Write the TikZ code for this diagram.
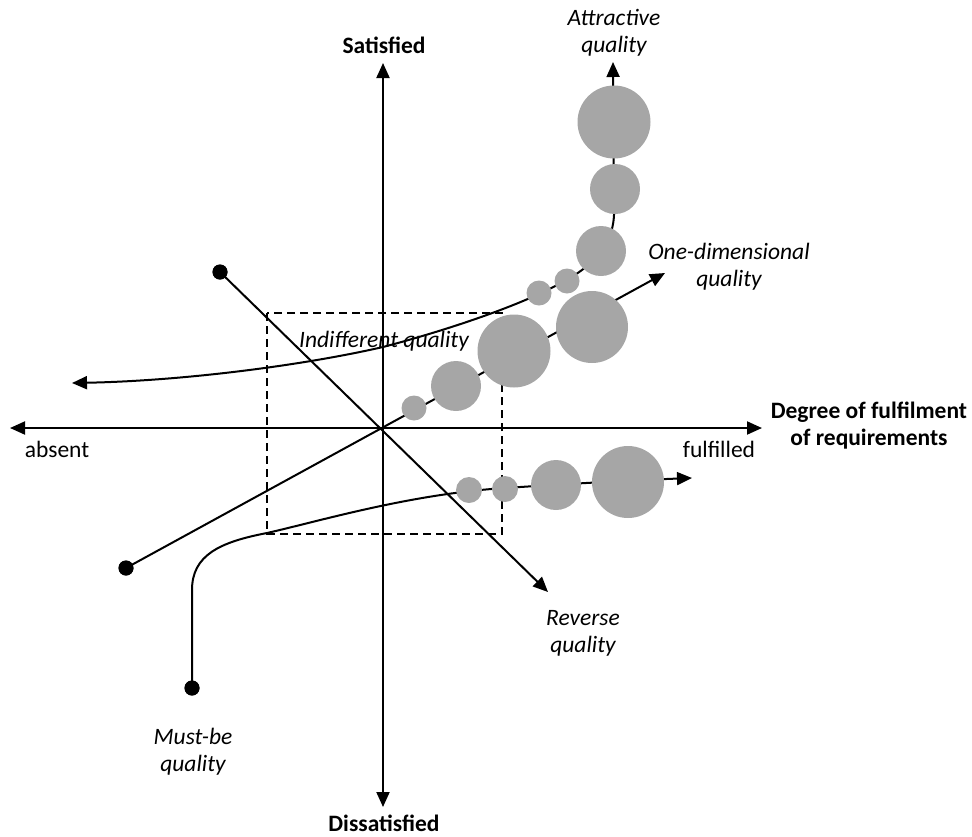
\documentclass[tikz,border=0pt]{standalone}
\usepackage{fontspec}
\setmainfont{Carlito}
\usetikzlibrary{arrows.meta}
\definecolor{bubgray}{RGB}{166,166,166}
\begin{document}
\begin{tikzpicture}[x=1pt,y=-1pt,
  ln/.style={line width=2pt},
  tipend/.style={-{Triangle[length=15pt,width=13pt]}},
  tipboth/.style={{Triangle[length=15pt,width=13pt]}-{Triangle[length=15pt,width=13pt]}},
  bub/.style={circle,fill=bubgray,draw=none,inner sep=0pt},
  dotnode/.style={circle,fill=black,draw=none,inner sep=0pt,minimum size=15pt},
  lbl/.style={font=\fontsize{23.5}{27}\selectfont\itshape,align=center,inner sep=0pt},
  axlbl/.style={font=\fontsize{23.5}{27}\selectfont,inner sep=0pt},
  axtitle/.style={font=\fontsize{23.5}{27}\selectfont\bfseries,align=center,inner sep=0pt},
  dashbox/.style={line width=1.6pt,dash pattern=on 8pt off 5pt}
]
\useasboundingbox (0,0) rectangle (972,836);

% axes
\coordinate (O) at (383,429);
\coordinate (xL) at (10,428);
\coordinate (xR) at (762,428);
\coordinate (yT) at (383,63);
\coordinate (yB) at (383,807);
\draw[ln,tipboth] (xL) -- (xR);
\draw[ln,tipboth] (yT) -- (yB);

% dashed box (indifferent zone)
\coordinate (bxA) at (267,313);
\coordinate (bxB) at (502,534);
\draw[dashbox] (bxA) rectangle (bxB);

% endpoints
\node[dotnode] (dR) at (220,272) {};
\node[dotnode] (dO) at (126,568) {};
\node[dotnode] (dM) at (192,688) {};
\coordinate (tR) at (548,592);
\coordinate (tO) at (665,273);
\coordinate (tM) at (692,478);
\coordinate (tAl) at (72,383);
\coordinate (tAt) at (613,62);

% reverse quality
\draw[ln,tipend] (dR.center) -- (tR);
% one-dimensional quality
\draw[ln,tipend] (dO.center) -- (tO);
% attractive quality
\draw[ln,tipboth] (tAl) .. controls (180,381) and (300,366) .. (383,347)
  .. controls (440,332) and (500,312) .. (539,294)
  .. controls (570,279) and (612,260) .. (614,215) -- (tAt);
% must-be quality
\draw[ln,tipend] (dM.center) -- (192,590) .. controls (192,555) and (220,542) .. (267,533)
  .. controls (320,521) and (410,494) .. (505,488)
  .. controls (580,483) and (640,480) .. (tM);

% bubbles: attractive
\node[bub,minimum size=25pt] (a1) at (539,293) {};
\node[bub,minimum size=25pt] (a2) at (567,281) {};
\node[bub,minimum size=50pt] (a3) at (601,251) {};
\node[bub,minimum size=50pt] (a4) at (615,189) {};
\node[bub,minimum size=73pt] (a5) at (614,122) {};
% bubbles: one-dimensional
\node[bub,minimum size=25pt] (o1) at (414,408) {};
\node[bub,minimum size=50pt] (o2) at (456,386) {};
\node[bub,minimum size=73pt] (o3) at (514,351) {};
\node[bub,minimum size=72pt] (o4) at (592,327) {};
% bubbles: must-be
\node[bub,minimum size=26pt] (m1) at (469,490) {};
\node[bub,minimum size=26pt] (m2) at (505,489) {};
\node[bub,minimum size=50pt] (m3) at (556,485) {};
\node[bub,minimum size=72pt] (m4) at (628,482) {};

% redraw dots on top
\node[dotnode] at (dR) {};
\node[dotnode] at (dO) {};
\node[dotnode] at (dM) {};

% labels
\node[axtitle,anchor=base] (tSat) at (384,53) {Satisfied};
\node[axtitle,anchor=base] (tDis) at (384,831) {Dissatisfied};
\node[axlbl,anchor=base] (tAbs) at (57,457) {absent};
\node[axlbl,anchor=base] (tFul) at (719,457) {fulfilled};
\node[axtitle] (tDeg) at (869,426) {Degree of fulfilment\\of requirements};
\node[lbl] (lA) at (614,33) {Attractive\\quality};
\node[lbl] (lO) at (729,267) {One-dimensional\\quality};
\node[lbl] (lR) at (583,633) {Reverse\\quality};
\node[lbl] (lM) at (193,752) {Must-be\\quality};
\node[lbl,anchor=base] (lI) at (384,347) {Indifferent quality};
\end{tikzpicture}
\end{document}
